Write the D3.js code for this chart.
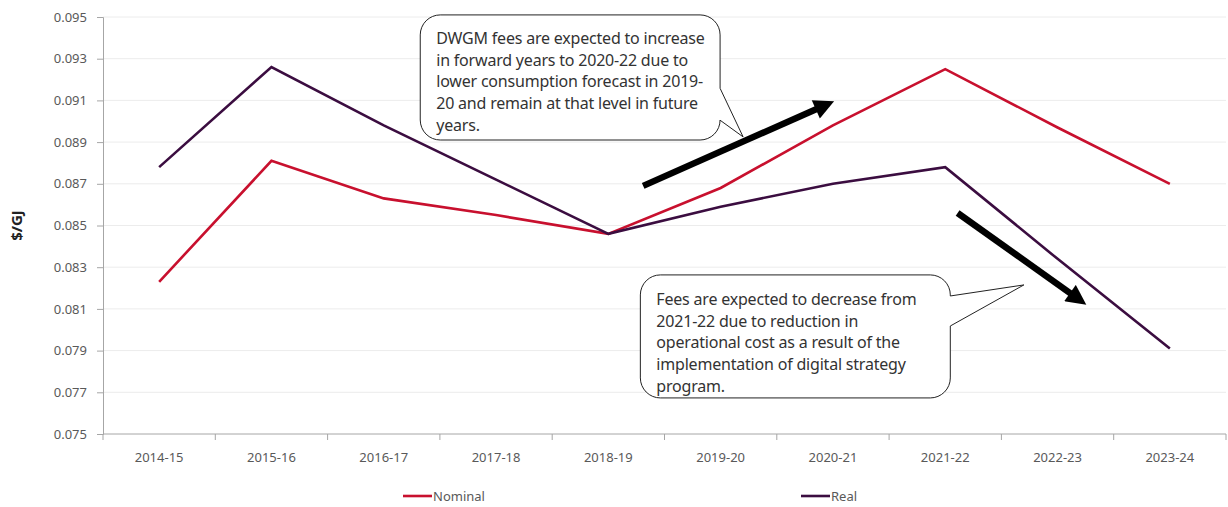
<!DOCTYPE html>
<html>
<head>
<meta charset="utf-8">
<script src="https://cdn.jsdelivr.net/npm/d3@7"></script>
<style>
  body { margin: 0; background: #fff; }
  text { font-family: "Noto Sans", "Open Sans", sans-serif; }
</style>
</head>
<body>
<div id="chart"></div>
<script>
// Data
var years = ["2014-15", "2015-16", "2016-17", "2017-18", "2018-19", "2019-20", "2020-21", "2021-22", "2022-23", "2023-24"];
var nominal = [0.0823, 0.0881, 0.0863, 0.0855, 0.0846, 0.0868, 0.0898, 0.0925, 0.0897, 0.0870];
var real = [0.0878, 0.0926, 0.0898, 0.0872, 0.0846, 0.0859, 0.0870, 0.0878, 0.0834, 0.0791];
var yTicks = [0.075, 0.077, 0.079, 0.081, 0.083, 0.085, 0.087, 0.089, 0.091, 0.093, 0.095];

var seriesNames = ["Nominal", "Real"];
var seriesColors = ["#c8102e", "#3b0d40"];

var note1 = ["DWGM fees are expected to increase", "in forward years to 2020-22 due to", "lower consumption forecast in 2019-", "20 and remain at that level in  future", "years."];
var note2 = ["Fees are expected to decrease from", "2021-22 due to reduction in", "operational cost as a result of the", "implementation of digital strategy", "program."];

var width = 1228, height = 507;
var margin = {top: 17, right: 2, bottom: 73, left: 103};

var svg = d3.select("#chart").append("svg")
    .attr("width", width)
    .attr("height", height);

var x = d3.scalePoint()
    .domain(years)
    .range([margin.left, width - margin.right])
    .padding(0.5);

var y = d3.scaleLinear()
    .domain([0.075, 0.095])
    .range([height - margin.bottom, margin.top]);

// fractional category position (for annotations)
function xi(i) { return x(years[0]) + i * x.step(); }

// gridlines
svg.append("g")
    .selectAll("line")
    .data(yTicks.slice(1))
    .enter().append("line")
    .attr("x1", margin.left)
    .attr("x2", width - margin.right)
    .attr("y1", d => y(d))
    .attr("y2", d => y(d))
    .style("stroke", "#ececec")
    .style("stroke-width", 1);

// y axis
var yAxis = svg.append("g")
    .attr("transform", "translate(" + margin.left + ",0)")
    .call(d3.axisLeft(y).tickValues(yTicks).tickFormat(d3.format(".3f")).tickSize(6).tickPadding(10));
yAxis.select(".domain").style("stroke", "#a6a6a6");
yAxis.selectAll(".tick line").style("stroke", "#a6a6a6");
yAxis.selectAll(".tick text").style("fill", "#595959").style("font-size", "13px");

// x axis with ticks between categories
var xAxisG = svg.append("g")
    .attr("transform", "translate(0," + y(0.075) + ")");
xAxisG.append("line")
    .attr("x1", margin.left)
    .attr("x2", width - margin.right)
    .style("stroke", "#a6a6a6");
xAxisG.selectAll(".xt")
    .data(d3.range(years.length + 1))
    .enter().append("line")
    .attr("x1", d => xi(d - 0.5))
    .attr("x2", d => xi(d - 0.5))
    .attr("y1", 0)
    .attr("y2", 6)
    .style("stroke", "#a6a6a6");
xAxisG.selectAll(".xl")
    .data(years)
    .enter().append("text")
    .attr("x", d => x(d))
    .attr("y", 28)
    .attr("text-anchor", "middle")
    .style("fill", "#595959")
    .style("font-size", "13px")
    .text(d => d);

// y title
svg.append("text")
    .attr("transform", "translate(22," + ((y.range()[0] + y.range()[1]) / 2) + ") rotate(-90)")
    .attr("text-anchor", "middle")
    .style("font-weight", "bold")
    .style("font-size", "15px")
    .style("fill", "#222")
    .text("$/GJ");

// lines
var line = d3.line()
    .x((d, i) => x(years[i]))
    .y(d => y(d));

[nominal, real].forEach(function(s, k) {
    svg.append("path")
        .datum(s)
        .attr("d", line)
        .style("fill", "none")
        .style("stroke", seriesColors[k])
        .style("stroke-width", 2.6)
        .style("stroke-linejoin", "miter");
});

// speech bubble with tail on right edge
function bubble(l, t, r, b, t1, t2, tx, ty) {
    var rad = 20;
    return "M" + (l + rad) + "," + t +
        "H" + (r - rad) +
        "A" + rad + "," + rad + " 0 0 1 " + r + "," + (t + rad) +
        "V" + t1 + "L" + tx + "," + ty + "L" + r + "," + t2 +
        "V" + (b - rad) +
        "A" + rad + "," + rad + " 0 0 1 " + (r - rad) + "," + b +
        "H" + (l + rad) +
        "A" + rad + "," + rad + " 0 0 1 " + l + "," + (b - rad) +
        "V" + (t + rad) +
        "A" + rad + "," + rad + " 0 0 1 " + (l + rad) + "," + t + "Z";
}

function addNote(lines, l, t, r, b, t1, t2, tx, ty, first) {
    svg.append("path")
        .attr("d", bubble(xi(l), y(t), xi(r), y(b), y(t1), y(t2), xi(tx), y(ty)))
        .style("fill", "#fff")
        .style("stroke", "#222")
        .style("stroke-width", 1);
    svg.append("g").selectAll("text")
        .data(lines)
        .enter().append("text")
        .attr("x", xi(l) + 16)
        .attr("y", (d, i) => y(t) + first + i * 21.7)
        .style("font-size", "16px")
        .style("letter-spacing", "-0.2px")
        .style("fill", "#333")
        .text(d => d);
}

addNote(note1, 2.325, 0.09510, 4.995, 0.08910, 0.09158, 0.09005, 5.20, 0.08925, 29);
addNote(note2, 4.285, 0.08263, 7.045, 0.07673, 0.08162, 0.08018, 7.70, 0.08215, 30);

// arrows
var defs = svg.append("defs");
defs.append("marker")
    .attr("id", "head")
    .attr("markerUnits", "userSpaceOnUse")
    .attr("viewBox", "0 0 10 10")
    .attr("refX", 2)
    .attr("refY", 5)
    .attr("markerWidth", 22)
    .attr("markerHeight", 20)
    .attr("orient", "auto")
    .append("path")
    .attr("d", "M0,0L10,5L0,10Z")
    .style("fill", "#000");

var arrows = [[4.31, 0.08690, 5.88, 0.09065], [7.11, 0.08560, 8.14, 0.08165]];
svg.append("g").selectAll("line")
    .data(arrows)
    .enter().append("line")
    .attr("x1", d => xi(d[0]))
    .attr("y1", d => y(d[1]))
    .attr("x2", d => xi(d[2]))
    .attr("y2", d => y(d[3]))
    .style("stroke", "#000")
    .style("stroke-width", 6.5)
    .attr("marker-end", "url(#head)");

// legend
var legend = svg.append("g")
    .selectAll("g")
    .data(seriesNames)
    .enter().append("g")
    .attr("transform", (d, i) => "translate(" + (i === 0 ? 403 : 801) + "," + 496 + ")");
legend.append("line")
    .attr("x1", 0).attr("x2", 29)
    .style("stroke", (d, i) => seriesColors[i])
    .style("stroke-width", 2.6);
legend.append("text")
    .attr("x", 30)
    .attr("y", 5)
    .style("font-size", "13px")
    .style("fill", "#595959")
    .text(d => d);
</script>
</body>
</html>
